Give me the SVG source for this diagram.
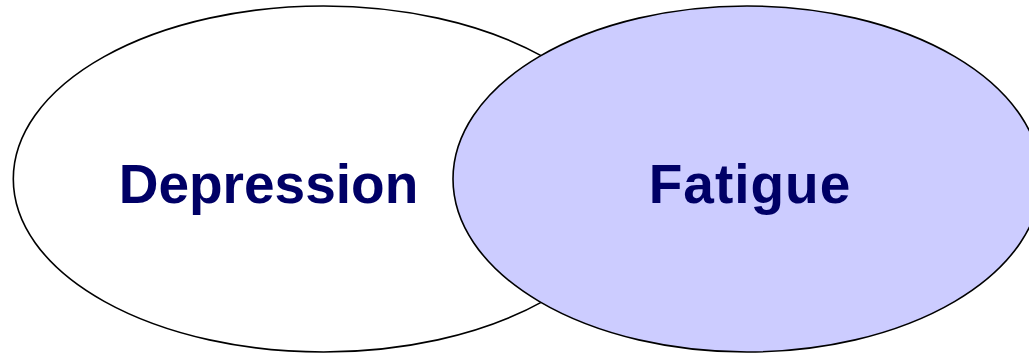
<svg xmlns="http://www.w3.org/2000/svg" width="1029" height="355" viewBox="0 0 1029 355">
<style>
.ell{stroke:#000;stroke-width:1.6}
.lbl{font-family:"Liberation Sans",Arial,sans-serif;font-weight:bold;font-size:55px;fill:#000066;text-anchor:middle}
</style>
<rect width="1029" height="355" fill="#fff"/>
<g id="depression">
<ellipse class="ell" cx="323.6" cy="179" rx="310.3" ry="173" fill="#fff"/>
<text class="lbl" x="268.5" y="203">Depression</text>
</g>
<g id="fatigue">
<ellipse class="ell" cx="747" cy="179" rx="294" ry="173" fill="#CCCCFF"/>
<text class="lbl" x="750" y="203" letter-spacing="1">Fatigue</text>
</g>
<g id="connectors"/>
</svg>
